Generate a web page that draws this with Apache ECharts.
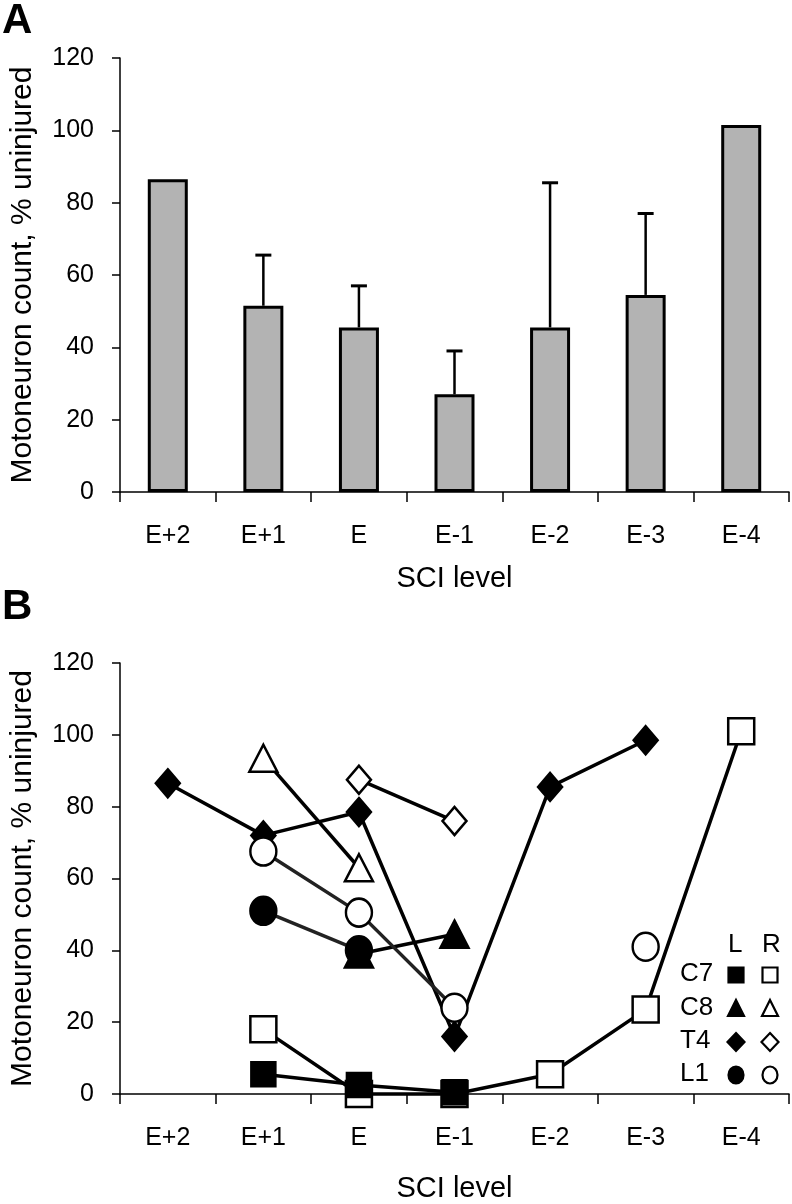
<!DOCTYPE html>
<html><head><meta charset="utf-8">
<script src="https://cdn.jsdelivr.net/npm/echarts@6/dist/echarts.min.js"></script>
<style>html,body{margin:0;padding:0;background:#fff}#c{width:792px;height:1204px}</style>
</head><body><div id="c"></div>
<script>
// ---------- data ----------
const categories = ['E+2', 'E+1', 'E', 'E-1', 'E-2', 'E-3', 'E-4'];
const yTicks = [0, 20, 40, 60, 80, 100, 120];
// Panel A: mean and upper error-bar end
const meanA = [86.5, 51.5, 45.5, 27, 45.5, 54.5, 101.5];
const upperA = [null, 65.5, 57, 39, 85.5, 77, null];
// Panel B: individual animals (L = filled, R = open)
const C7L = [null, 5.5, 2.5, 0.5, null, null, null];
const C7R = [null, 18, 0, 0, 5.5, 23.5, 101];
const C8L = [null, null, 39, 44.5, null, null, null];
const C8R = [null, 93.5, 63, null, null, null, null];
const T4L = [86.5, 72, 78.5, 16, 85.5, 98.5, null];
const T4R = [null, null, 87.5, 76, null, null, null];
const L1L = [null, 51, 40, null, null, null, null];
const L1R = [null, 67.5, 50.5, 24, null, 41, null];
const legendRows = ['C7', 'C8', 'T4', 'L1'];
const legendCols = ['L', 'R'];

// ---------- chart ----------
const FONT = '"Liberation Sans", Arial, Helvetica, sans-serif';
const chart = echarts.init(document.getElementById('c'));

function xAxis(gridIndex, nameGap) {
  return {
    type: 'category', gridIndex, data: categories, boundaryGap: true,
    axisLine: { lineStyle: { color: '#000', width: 1.5 } },
    axisTick: { show: true, length: 10, inside: false, alignWithLabel: false, interval: 0,
                lineStyle: { color: '#000', width: 1.5 } },
    axisLabel: { fontSize: 25, color: '#000', margin: 32, interval: 0, fontFamily: FONT },
    name: 'SCI level', nameLocation: 'middle', nameGap,
    nameTextStyle: { fontSize: 29, color: '#000', fontFamily: FONT },
    splitLine: { show: false }
  };
}
function yAxis(gridIndex) {
  return {
    type: 'value', gridIndex, min: yTicks[0], max: yTicks[yTicks.length - 1],
    interval: yTicks[1] - yTicks[0],
    axisLine: { show: true, lineStyle: { color: '#000', width: 1.5 } },
    axisTick: { show: true, length: 8, inside: false, lineStyle: { color: '#000', width: 1.5 } },
    axisLabel: { fontSize: 25, color: '#000', margin: 26, fontFamily: FONT },
    splitLine: { show: false },
    name: 'Motoneuron count, % uninjured', nameLocation: 'middle', nameGap: 82,
    nameTextStyle: { fontSize: 30, color: '#000', fontFamily: FONT }
  };
}

function lineSeries(data, symbol, size, filled, color, z) {
  return {
    type: 'line', xAxisIndex: 1, yAxisIndex: 1, data, symbol, symbolSize: size,
    showSymbol: true, connectNulls: false, clip: false, z,
    lineStyle: { color: color, width: 3.5 },
    itemStyle: { color: filled ? '#000' : '#fff', borderColor: '#000', borderWidth: 2.5, opacity: 1 },
    emphasis: { disabled: true }, animation: false
  };
}

// legend graphics
const legendGraphics = [];
const lgX0 = 680, lgColX = [736, 770], lgHeadY = 946, lgRowY = [975, 1009, 1042, 1075];
legendCols.forEach((t, i) => legendGraphics.push({
  type: 'text', left: lgColX[i] - 8, top: lgHeadY - 14,
  style: { text: t, fill: '#000', font: '26px ' + FONT }
}));
const legendShapes = ['rect', 'triangle', 'diamond', 'circle'];
legendRows.forEach((t, r) => {
  const y = lgRowY[r];
  legendGraphics.push({ type: 'text', left: lgX0, top: y - 14,
    style: { text: t, fill: '#000', font: '26px ' + FONT } });
  [true, false].forEach((filled, c) => {
    const cx = lgColX[c];
    const st = { fill: filled ? '#000' : '#fff', stroke: '#000', lineWidth: 2.2 };
    const s = legendShapes[r];
    if (s === 'rect') legendGraphics.push({ type: 'rect', shape: { x: cx - 7.5, y: y - 7.5, width: 15, height: 15 }, style: st });
    if (s === 'triangle') legendGraphics.push({ type: 'polygon', shape: { points: [[cx, y - 9], [cx + 8, y + 7], [cx - 8, y + 7]] }, style: st });
    if (s === 'diamond') legendGraphics.push({ type: 'polygon', shape: { points: [[cx, y - 9], [cx + 8.5, y], [cx, y + 9], [cx - 8.5, y]] }, style: st });
    if (s === 'circle') legendGraphics.push({ type: 'ellipse', shape: { cx, cy: y, rx: 7.5, ry: 8.5 }, style: st });
  });
});

const option = {
  animation: false,
  backgroundColor: '#fff',
  textStyle: { fontFamily: FONT },
  grid: [
    { left: 113, right: 3, top: 58, height: 434, containLabel: false },
    { left: 113, right: 3, top: 663, height: 434, containLabel: false }
  ],
  xAxis: [xAxis(0, 72), xAxis(1, 80)],
  yAxis: [yAxis(0), yAxis(1)],
  graphic: [
    { type: 'text', left: 2, top: 0, style: { text: 'A', font: 'bold 42px ' + FONT, fill: '#000' } },
    { type: 'text', left: 2, top: 586, style: { text: 'B', font: 'bold 42px ' + FONT, fill: '#000' } }
  ].concat(legendGraphics),
  series: [
    {
      type: 'bar', xAxisIndex: 0, yAxisIndex: 0, data: meanA, barWidth: 40,
      itemStyle: { color: '#b3b3b3', borderColor: '#000', borderWidth: 3 },
      emphasis: { disabled: true }, z: 2
    },
    {
      type: 'custom', xAxisIndex: 0, yAxisIndex: 0, z: 3,
      data: categories.map((c, i) => [i, meanA[i], upperA[i]]),
      renderItem: function (params, api) {
        const i = api.value(0), hi = api.value(2);
        if (hi == null || isNaN(hi)) return null;
        const p0 = api.coord([i, api.value(1)]);
        const p1 = api.coord([i, hi]);
        const w = 16;
        return {
          type: 'group', children: [
            { type: 'line', shape: { x1: p0[0], y1: p0[1], x2: p1[0], y2: p1[1] }, style: { stroke: '#000', lineWidth: 2.5 } },
            { type: 'line', shape: { x1: p1[0] - w / 2, y1: p1[1], x2: p1[0] + w / 2, y2: p1[1] }, style: { stroke: '#000', lineWidth: 3 } }
          ]
        };
      }
    },
    lineSeries(C7R, 'rect', 26, false, '#000', 3),
    lineSeries(C7L, 'rect', 24, true, '#000', 4),
    lineSeries(C8R, 'triangle', [28, 27], false, '#000', 5),
    lineSeries(C8L, 'triangle', [28, 27], true, '#000', 6),
    lineSeries(T4R, 'diamond', [24, 28], false, '#000', 7),
    lineSeries(T4L, 'diamond', [24, 28], true, '#000', 8),
    lineSeries(L1R, 'circle', [26, 28], false, '#222', 9),
    lineSeries(L1L, 'circle', [26, 28], true, '#222', 10)
  ]
};
chart.setOption(option);
</script>
</body></html>
